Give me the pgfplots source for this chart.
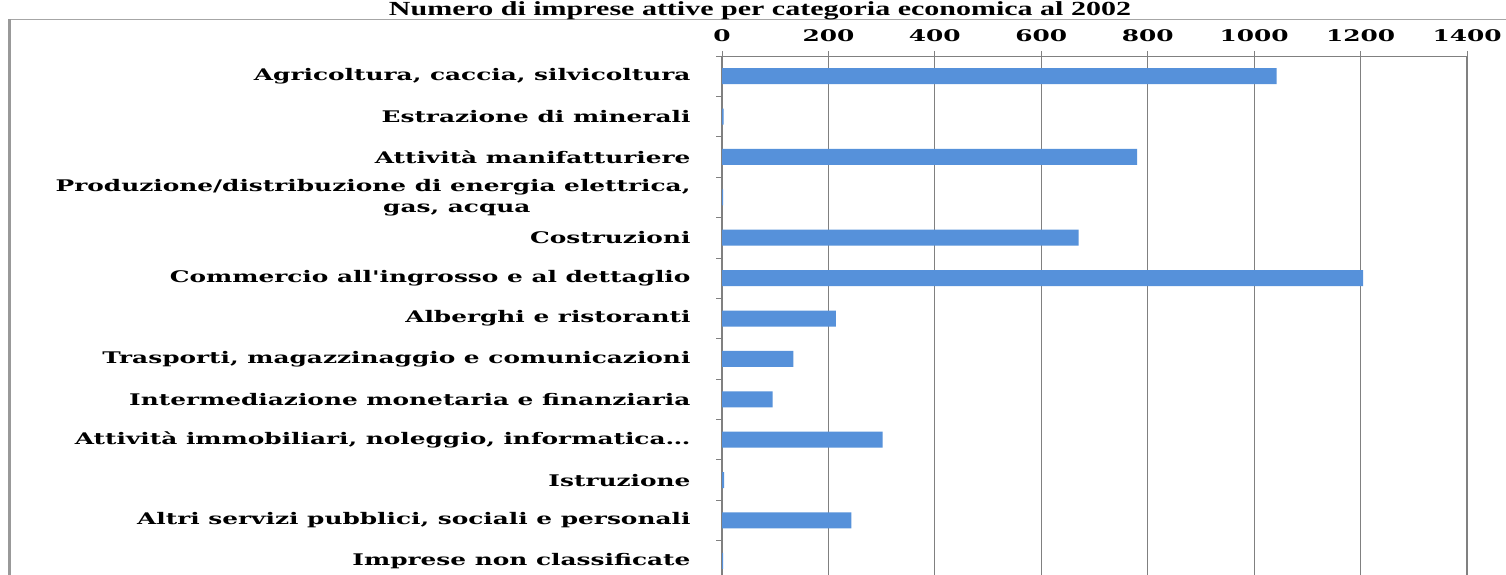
\documentclass[border=0pt]{standalone}
\usepackage{fontspec}
\usepackage{pgfplots}
\pgfplotsset{compat=1.18}
\newfontfamily\labfont[FakeStretch=1.55]{DejaVu Serif}
\newfontfamily\titfont[FakeStretch=1.5]{Liberation Serif}
\definecolor{barblue}{RGB}{86,145,218}
\definecolor{gridgray}{RGB}{128,128,128}

\begin{document}
\begin{tikzpicture}
\clip (0,0) rectangle (1506pt,-574pt);
\fill[white] (0,0) rectangle (1506pt,-574pt);
% outer chart border
\draw[gray!70, line width=1pt] (9pt,-19pt) -- (1506pt,-19pt);
\draw[gray!80, line width=3pt] (9pt,-19pt) -- (9pt,-580pt);
\node[anchor=base, font=\titfont\bfseries\fontsize{20}{22}\selectfont] at (760pt,-15pt)
  {Numero di imprese attive per categoria economica al 2002};
\begin{axis}[
  at={(722pt,-581pt)}, anchor=south west,
  scale only axis, width=745pt, height=525pt,
  xbar, bar width=16pt,
  xmin=0, xmax=1400,
  xtick={0,200,...,1400},
  ymin=-0.5, ymax=12.5, y dir=reverse,
  ytick={0,...,12},
  minor ytick={-0.5,0.5,...,12.5},
  major y tick style={draw=none},
  minor tick length=6pt,
  major tick length=5pt,
  tick align=outside,
  axis x line*=top, axis y line*=left,
  axis line style={gridgray, line width=1pt},
  every tick/.style={gridgray, line width=0.8pt},
  xmajorgrids, grid style={gridgray, line width=1.2pt},
  tick label style={font=\labfont\bfseries\fontsize{16}{21}\selectfont},
  /pgf/number format/assume math mode=true,
  /pgf/number format/1000 sep={},
  xticklabel style={yshift=6pt},
  yticklabel style={align=right, xshift=-23pt},
  yticklabels={
    {Agricoltura, caccia, silvicoltura},
    {Estrazione di minerali},
    {Attività manifatturiere},
    {Produzione/distribuzione di energia elettrica,\\gas, acqua\hspace*{160pt}},
    {Costruzioni},
    {Commercio all'ingrosso e al dettaglio},
    {Alberghi e ristoranti},
    {Trasporti, magazzinaggio e comunicazioni},
    {Intermediazione monetaria e finanziaria},
    {Attività immobiliari, noleggio, informatica\ldots},
    {Istruzione},
    {Altri servizi pubblici, sociali e personali},
    {Imprese non classificate}},
]
\addplot[draw=none, fill=barblue]
  coordinates {
  (1042,0) (3,1) (780,2) (2,3) (670,4) (1205,5) (214,6)
  (134,7) (95,8) (302,9) (4,10) (243,11) (2,12)
};
\end{axis}
\end{tikzpicture}
\end{document}
